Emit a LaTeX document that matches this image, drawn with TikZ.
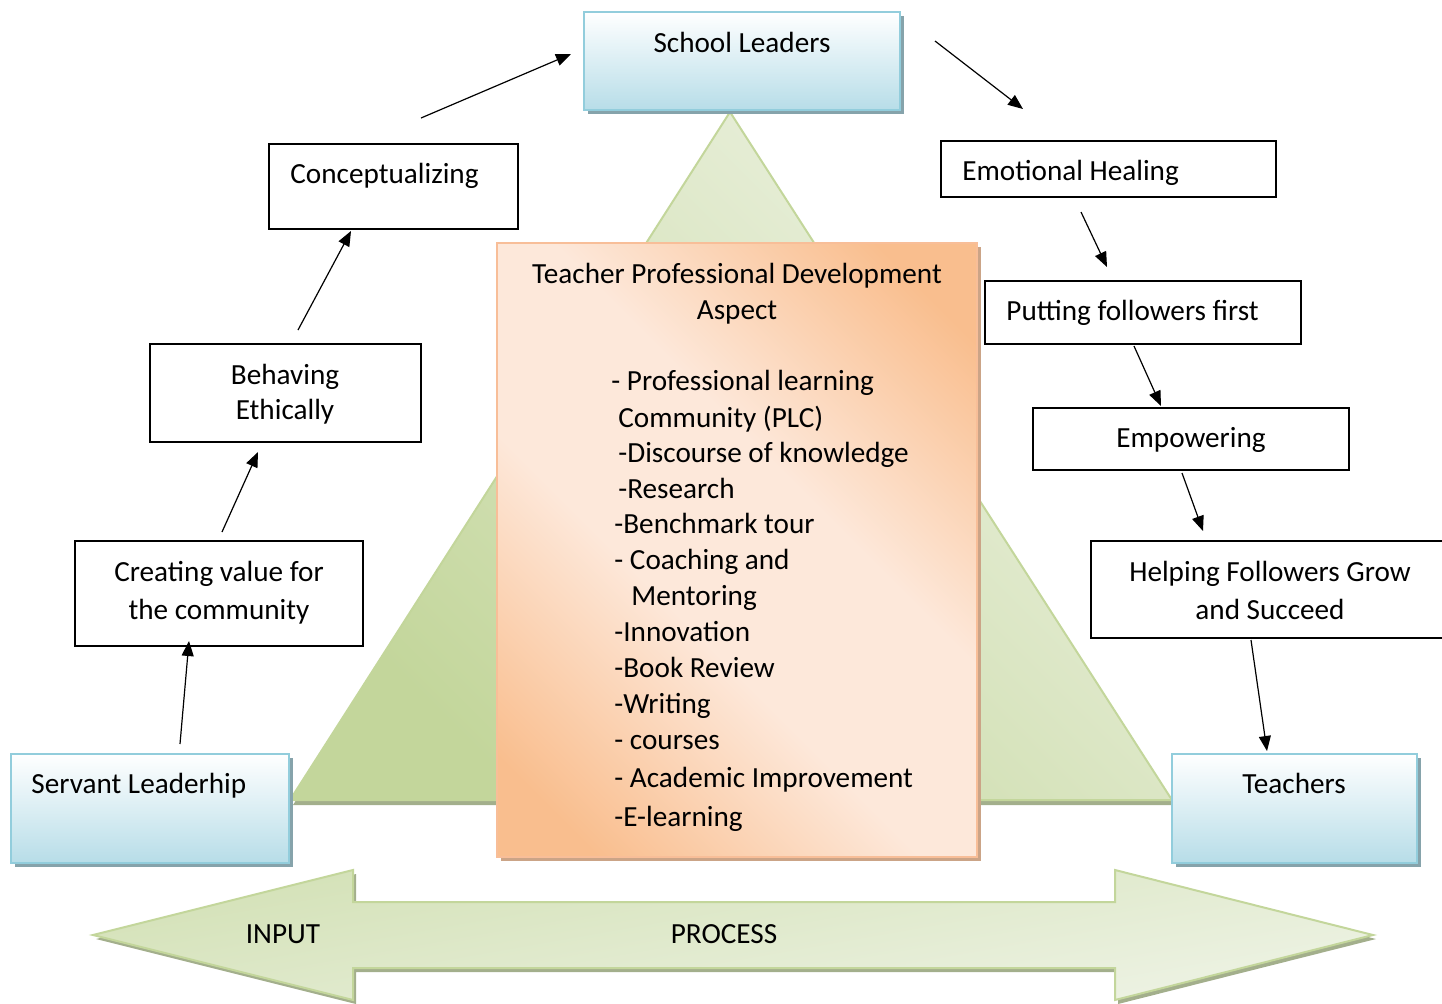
\documentclass[tikz,border=0pt]{standalone}
\usepackage{fontspec}
\setmainfont{Carlito}
\usetikzlibrary{shadows,arrows.meta}
\definecolor{bluebd}{HTML}{92CDDC}
\definecolor{bluefill}{HTML}{B7DDE8}
\definecolor{blueshadow}{HTML}{86A3AB}
\definecolor{orbd}{HTML}{F8BE98}
\definecolor{orfill}{HTML}{F9BE8E}
\definecolor{orlight}{HTML}{FDE8DA}
\definecolor{orshadow}{HTML}{CBA487}
\definecolor{grn}{HTML}{C3D69B}
\definecolor{grnlight}{HTML}{EDF2E2}
\definecolor{grnshadow}{HTML}{A3AF8C}
\definecolor{arrtop}{HTML}{D3E1B6}
\definecolor{arrbot}{HTML}{EEF3E5}
\pgfdeclareverticalshading{orsh}{100bp}{color(0bp)=(orfill); color(21bp)=(orfill);
  color(42bp)=(orlight); color(58bp)=(orlight); color(79bp)=(orfill); color(100bp)=(orfill)}
\tikzset{
  bluebox/.style={draw=bluebd, line width=1.1pt, top color=white, bottom color=bluefill,
    inner sep=0pt,
    drop shadow={shadow xshift=2pt, shadow yshift=-2pt, fill=blueshadow, opacity=1}},
  plainbox/.style={draw=black, line width=0.7pt, fill=white, inner sep=0pt},
  orbox/.style={draw=orbd, line width=1pt, shading=orsh, shading angle=135, inner sep=0pt,
    drop shadow={shadow xshift=2pt, shadow yshift=-2pt, fill=orshadow, opacity=1}},
  txt/.style={inner sep=0pt, anchor=base},
  ltxt/.style={inner sep=0pt, anchor=base west},
  arr/.style={-{Triangle[length=7.5pt,width=6pt]}, line width=0.6pt, black}
}
\begin{document}
\begin{tikzpicture}[x=0.5pt,y=-0.5pt, font=\fontsize{14.6}{18}\selectfont]
\useasboundingbox (0,0) rectangle (1442,1003);

% triangle
\path[draw=grn, line width=1pt, top color=grn, bottom color=grnlight, shading angle=135,
  drop shadow={shadow xshift=1.5pt, shadow yshift=-2.5pt, fill=grnshadow, opacity=1}]
  (730,112) -- (1172,800) -- (290,800) -- cycle;

% bottom double arrow
\path[draw=grn, line width=1pt, top color=arrtop, bottom color=arrbot, shading angle=10,
  drop shadow={shadow xshift=1.5pt, shadow yshift=-2pt, fill=grnshadow, opacity=1}]
  (93,935) -- (353,870) -- (353,902) -- (1115,902) -- (1115,870) -- (1373,935)
  -- (1115,1000) -- (1115,968) -- (353,968) -- (353,1000) -- cycle;
\node[txt] (input) at (283,943) {INPUT};
\node[txt] (process) at (724,943) {PROCESS};

% blue boxes
\node[bluebox, minimum width=158pt, minimum height=49pt] (sl) at (742,61) {};
\node[txt] (slt) at (742,52) {School Leaders};
\node[bluebox, minimum width=139pt, minimum height=54.5pt] (sv) at (150,808.5) {};
\node[ltxt] (svt) at (31,793) {Servant Leaderhip};
\node[bluebox, minimum width=122.5pt, minimum height=54.5pt] (te) at (1294.5,808.5) {};
\node[txt] (tet) at (1294,793) {Teachers};

% central box
\node[orbox, minimum width=240pt, minimum height=307pt] (tpd) at (737,550) {};
\node[txt] (t1) at (737,283) {Teacher Professional Development};
\node[txt] (t2) at (737,319) {Aspect};
\foreach \n/\xx/\yy/\s in {
  l1/611/390/{- Professional learning},
  l2/618/427/{Community (PLC)},
  l3/618/462/{-Discourse of knowledge},
  l4/618/498/{-Research},
  l5/614/533/{-Benchmark tour},
  l6/614/569/{- Coaching and},
  l7/631/605/{Mentoring},
  l8/614/641/{-Innovation},
  l9/614/677/{-Book Review},
  l10/614/713/{-Writing},
  l11/614/749/{- courses},
  l12/614/787/{- Academic Improvement},
  l13/614/826/{-E-learning}}
  \node[ltxt] (\n) at (\xx,\yy) {\s};

% white boxes, left
\node[plainbox, minimum width=124.5pt, minimum height=42.5pt] (co) at (393.5,186.5) {};
\node[ltxt] (cot) at (290,183) {Conceptualizing};
\node[plainbox, minimum width=135.5pt, minimum height=49pt] (be) at (285.5,393) {};
\node[txt] (bet1) at (285,384) {Behaving};
\node[txt] (bet2) at (285,419) {Ethically};
\node[plainbox, minimum width=144pt, minimum height=52.5pt] (cr) at (219,593.5) {};
\node[txt] (crt1) at (219,581) {Creating value for};
\node[txt] (crt2) at (219,619) {the community};

% white boxes, right
\node[plainbox, minimum width=167.5pt, minimum height=28pt] (eh) at (1108.5,169) {};
\node[ltxt] (eht) at (962,180) {Emotional Healing};
\node[plainbox, minimum width=158pt, minimum height=31.5pt] (pf) at (1143,312.5) {};
\node[ltxt] (pft) at (1006,320) {Putting followers first};
\node[plainbox, minimum width=158pt, minimum height=31pt] (em) at (1191,439) {};
\node[txt] (emt) at (1191,447) {Empowering};
\node[plainbox, minimum width=182pt, minimum height=48.5pt] (hf) at (1273,589.5) {};
\node[txt] (hft1) at (1270,581) {Helping Followers Grow};
\node[txt] (hft2) at (1270,619) {and Succeed};

% connector end points
\coordinate (a1s) at (180,744);  \coordinate (a1e) at (189,641);
\coordinate (a2s) at (222,532);  \coordinate (a2e) at (258,452);
\coordinate (a3s) at (298,330);  \coordinate (a3e) at (351,231);
\coordinate (a4s) at (421,118);  \coordinate (a4e) at (571,54);
\coordinate (a5s) at (935,41);   \coordinate (a5e) at (1023,109);
\coordinate (a6s) at (1081,212); \coordinate (a6e) at (1107,267);
\coordinate (a7s) at (1134,346); \coordinate (a7e) at (1161,406);
\coordinate (a8s) at (1182,473); \coordinate (a8e) at (1203,531);
\coordinate (a9s) at (1251,640); \coordinate (a9e) at (1267,751);
\foreach \i in {1,...,9} \draw[arr] (a\i s) -- (a\i e);
\end{tikzpicture}
\end{document}
